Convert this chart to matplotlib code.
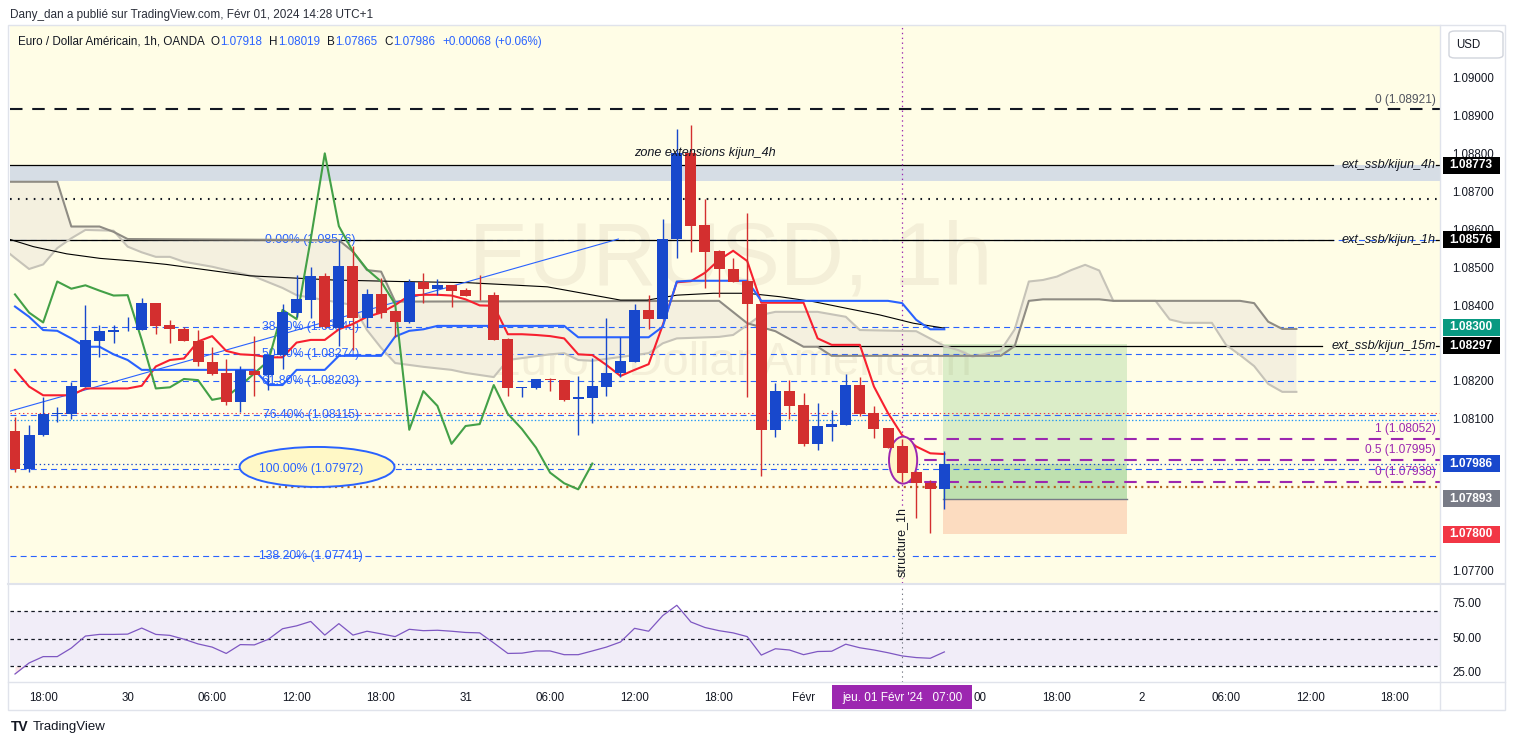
import matplotlib
matplotlib.use("Agg")
import matplotlib.pyplot as plt
from matplotlib.patches import Rectangle, Ellipse, Polygon, FancyBboxPatch
from matplotlib.transforms import blended_transform_factory as blend
import numpy as np

# ---------------- data ----------------
opens = [1.08072, 1.07972, 1.08060, 1.08117, 1.08117, 1.08189, 1.08310, 1.08334, 1.08337, 1.08337,
         1.08409, 1.08351, 1.08341, 1.08310, 1.08253, 1.08224, 1.08149, 1.08229, 1.08220, 1.08271,
         1.08384, 1.08418, 1.08481, 1.08344, 1.08507, 1.08371, 1.08432, 1.08388, 1.08358, 1.08466,
         1.08447, 1.08456, 1.08444, 1.08431, 1.08431, 1.08315, 1.08186, 1.08186, 1.08209, 1.08206,
         1.08155, 1.08160, 1.08189, 1.08224, 1.08255, 1.08391, 1.08367, 1.08577, 1.08804, 1.08615,
         1.08547, 1.08499, 1.08467, 1.08406, 1.08075, 1.08177, 1.08140, 1.08038, 1.08083, 1.08088,
         1.08193, 1.08119, 1.08079, 1.08031, 1.07964, 1.07935, 1.07918]
highs = [1.08110, 1.08088, 1.08162, 1.08136, 1.08202, 1.08404, 1.08351, 1.08351, 1.08372, 1.08422,
         1.08410, 1.08365, 1.08347, 1.08337, 1.08292, 1.08261, 1.08244, 1.08322, 1.08273, 1.08407,
         1.08483, 1.08503, 1.08488, 1.08576, 1.08560, 1.08447, 1.08475, 1.08390, 1.08472, 1.08488,
         1.08472, 1.08458, 1.08450, 1.08483, 1.08438, 1.08316, 1.08189, 1.08209, 1.08211, 1.08207,
         1.08217, 1.08264, 1.08369, 1.08319, 1.08407, 1.08431, 1.08631, 1.08868, 1.08879, 1.08683,
         1.08549, 1.08527, 1.08646, 1.08407, 1.08198, 1.08205, 1.08171, 1.08145, 1.08127, 1.08221,
         1.08213, 1.08139, 1.08080, 1.08052, 1.07966, 1.07943, 1.08019]
lows = [1.07963, 1.07963, 1.08058, 1.08095, 1.08103, 1.08189, 1.08268, 1.08303, 1.08336, 1.08337,
        1.08327, 1.08303, 1.08308, 1.08244, 1.08220, 1.08140, 1.08123, 1.08164, 1.08180, 1.08235,
        1.08373, 1.08371, 1.08343, 1.08297, 1.08286, 1.08345, 1.08371, 1.08319, 1.08357, 1.08410,
        1.08431, 1.08400, 1.08429, 1.08417, 1.08312, 1.08164, 1.08162, 1.08182, 1.08178, 1.08152,
        1.08061, 1.08094, 1.08164, 1.08215, 1.08255, 1.08340, 1.08367, 1.08527, 1.08545, 1.08450,
        1.08424, 1.08466, 1.08161, 1.07952, 1.08057, 1.08103, 1.08033, 1.08022, 1.08046, 1.08087,
        1.08111, 1.08053, 1.08028, 1.07938, 1.07842, 1.07802, 1.07865]
closes = [1.07972, 1.08061, 1.08117, 1.08119, 1.08191, 1.08312, 1.08336, 1.08338, 1.08339, 1.08409,
          1.08350, 1.08340, 1.08308, 1.08253, 1.08223, 1.08149, 1.08232, 1.08220, 1.08271, 1.08385,
          1.08420, 1.08481, 1.08345, 1.08507, 1.08371, 1.08432, 1.08384, 1.08358, 1.08466, 1.08447,
          1.08456, 1.08442, 1.08429, 1.08430, 1.08312, 1.08184, 1.08187, 1.08209, 1.08206, 1.08154,
          1.08161, 1.08191, 1.08224, 1.08257, 1.08391, 1.08367, 1.08577, 1.08804, 1.08612, 1.08545,
          1.08498, 1.08466, 1.08406, 1.08075, 1.08177, 1.08138, 1.08038, 1.08085, 1.08090, 1.08193,
          1.08117, 1.08077, 1.08028, 1.07962, 1.07934, 1.07918, 1.07986]

tenkan = [1.08233, 1.08189, 1.08166, 1.08166, 1.08166, 1.08184, 1.08184, 1.08184, 1.08184, 1.08191,
          1.08242, 1.08259, 1.08263, 1.08308, 1.08322, 1.08283, 1.08274, 1.08272, 1.08266, 1.08266,
          1.08305, 1.08312, 1.08312, 1.08340, 1.08354, 1.08373, 1.08384, 1.08404, 1.08429, 1.08431,
          1.08431, 1.08429, 1.08419, 1.08403, 1.08402, 1.08327, 1.08327, 1.08325, 1.08322, 1.08316,
          1.08274, 1.08272, 1.08246, 1.08217, 1.08233, 1.08248, 1.08351, 1.08464, 1.08467, 1.08489,
          1.08523, 1.08547, 1.08520, 1.08410, 1.08410, 1.08410, 1.08410, 1.08316, 1.08299, 1.08299,
          1.08299, 1.08189, 1.08119, 1.08061, 1.08031, 1.08013, 1.08011]
kijun = ([1.08400, 1.08373, 1.08338, 1.08336, 1.08316, 1.08294, 1.08294, 1.08274, 1.08259, 1.08233]
         + [1.08233] * 8 + [1.08193, 1.08193] + [1.08233] * 3 + [1.08270] * 4
         + [1.08321, 1.08336, 1.08340] + [1.08349] * 10 + [1.08319] * 6
         + [1.08347, 1.08466] + [1.08468] * 5 + [1.08415] * 10
         + [1.08409, 1.08365, 1.08340, 1.08340])
rsi = [24.3, 32.3, 36.9, 36.9, 43.1, 51.8, 53.0, 53.0, 53.2, 57.6,
       53.0, 52.3, 49.5, 46.1, 43.8, 39.2, 45.6, 45.4, 49.5, 57.1,
       59.2, 62.4, 52.5, 60.8, 52.5, 55.3, 53.4, 51.4, 56.7, 55.7,
       56.0, 55.3, 54.4, 54.1, 46.8, 39.2, 39.4, 41.0, 41.0, 38.3,
       38.3, 41.0, 43.8, 47.5, 57.4, 55.3, 66.6, 74.1, 62.0, 58.0,
       55.7, 54.1, 51.4, 38.0, 42.6, 41.7, 38.3, 40.6, 40.8, 45.9,
       43.3, 41.7, 39.7, 37.4, 36.2, 35.7, 40.3]
chikou_shift = 25

span_a_x = [-1, 0, 1, 2, 3, 4, 5, 7, 8, 9, 10, 11, 12, 14, 17, 19, 20, 22, 24, 25, 26, 27, 29, 31, 32,
            34, 35, 38, 39, 40, 41, 45, 46, 47, 50, 51, 52, 53, 54, 57, 59, 60, 64, 66, 67, 68, 70, 71,
            72, 73, 74, 75, 76, 77, 78, 81, 82, 83, 85, 86, 87, 88, 89, 90, 91]
span_a_y = [1.08558, 1.08528, 1.08499, 1.08511, 1.08554, 1.08580, 1.08602, 1.08600, 1.08558, 1.08543,
            1.08531, 1.08531, 1.08518, 1.08505, 1.08479, 1.08449, 1.08430, 1.08417, 1.08404, 1.08338,
            1.08291, 1.08251, 1.08241, 1.08233, 1.08225, 1.08214, 1.08259, 1.08274, 1.08277, 1.08259,
            1.08257, 1.08277, 1.08303, 1.08316, 1.08320, 1.08325, 1.08351, 1.08378, 1.08386, 1.08386,
            1.08373, 1.08338, 1.08335, 1.08296, 1.08285, 1.08268, 1.08284, 1.08340, 1.08466, 1.08470,
            1.08479, 1.08496, 1.08510, 1.08495, 1.08415, 1.08415, 1.08366, 1.08357, 1.08357, 1.08299,
            1.08272, 1.08243, 1.08196, 1.08175, 1.08175]
span_b_x = [-1, 3, 4, 6, 7, 8, 23, 24, 25, 26, 27, 50, 52, 54, 56, 57, 58, 70, 71, 72, 73, 77, 78, 87,
            88, 89, 90, 91]
span_b_y = [1.08729, 1.08729, 1.08611, 1.08611, 1.08597, 1.08578, 1.08575, 1.08545, 1.08496, 1.08492,
            1.08413, 1.08415, 1.08356, 1.08335, 1.08294, 1.08294, 1.08270, 1.08270, 1.08296, 1.08415,
            1.08419, 1.08419, 1.08415, 1.08415, 1.08409, 1.08360, 1.08341, 1.08341]

sma_x = [-0.36, 1.3, 3.67, 6.04, 8.4, 10.77, 13.14, 16.69, 22.6, 27.3, 32.1, 37.8, 43.0, 44.9, 47.0,
         49.6, 52.0, 54.3, 56.7, 59.1, 61.4, 63.8, 66.0]
sma_y = [1.08577, 1.08558, 1.08539, 1.08527, 1.08520, 1.08511, 1.08499, 1.08481, 1.08470, 1.08466,
         1.08463, 1.08452, 1.08417, 1.08417, 1.08430, 1.08435, 1.08435, 1.08426, 1.08413, 1.08395,
         1.08378, 1.08356, 1.08343]
trend_x = [-0.36, 42.85]
trend_y = [1.08124, 1.08578]

fib_levels = [1.08576, 1.08345, 1.08274, 1.08203, 1.08115, 1.07972, 1.07741]
fib_labels = ["0.00% (1.08576)", "38.20% (1.08345)", "50.00% (1.08274)", "61.80% (1.08203)",
              "76.40% (1.08115)", "100.00% (1.07972)", "138.20% (1.07741)"]
struct_levels = [1.08052, 1.07995, 1.07938]
struct_labels = ["1 (1.08052)", "0.5 (1.07995)", "0 (1.07938)"]
struct_bar = 63
ext_levels = [1.08773, 1.08576, 1.08297]
ext_labels = ["ext_ssb/kijun_4h", "ext_ssb/kijun_1h", "ext_ssb/kijun_15m"]
ext_starts = [-0.36, -0.36, 57]
ext_gap_from = [93.6, 93.6, 92.8]
zone_lo, zone_hi = 1.08731, 1.08773
top_level, top_label = 1.08921, "0 (1.08921)"
black_dotted = 1.08684
red_dotted = 1.08119
lightblue_dotted = 1.08101
last_price = 1.07986
orange_dotted = 1.07925
entry, take_profit, stop_loss = 1.07893, 1.08300, 1.07800
pos_start, pos_end = 65.9, 79.0

price_ticks = [1.077, 1.081, 1.082, 1.084, 1.085, 1.086, 1.087, 1.088, 1.089, 1.090]
tag_texts = ["1.08773", "1.08576", "1.08300", "1.08297", "1.07986", "1.07893", "1.07800"]
tag_pos = [1.08773, 1.08576, 1.08346, 1.08297, 1.07986, 1.07893, 1.07800]
tag_colors = ["#000000", "#000000", "#089981", "#000000", "#1848cc", "#787b86", "#f23645"]
time_ticks = [2, 8, 14, 20, 26, 32, 38, 44, 50, 56, 74, 80, 86, 92, 98]
time_labels = ["18:00", "30", "06:00", "12:00", "18:00", "31", "06:00", "12:00", "18:00", "Févr",
               "18:00", "2", "06:00", "12:00", "18:00"]
partial_tick, partial_label = 68.05, "00"
rsi_ticks = [75, 50, 25]
rsi_labels = ["75.00", "50.00", "25.00"]
cross_bar = 63
cross_label = "jeu. 01 Févr '24   07:00"

# ---------------- style ----------------
plt.rcParams['font.family'] = ['Liberation Sans', 'DejaVu Sans']
plt.rcParams['lines.scale_dashes'] = False
BG = '#fffde6'
DARK = '#131722'
RED = '#d32f2f'
BLUE = '#1848cc'
FS = 8.3

W, H = 1515, 746
fig = plt.figure(figsize=(W / 100, H / 100), dpi=100)
fig.patch.set_facecolor('white')


def fx(px):
    return px / W


def fy(py):
    return 1 - py / H


YMIN, YMAX = 1.076710, 1.091424
XMIN, XMAX = -0.355, 101.2
PPX = (YMAX - YMIN) / 558.0

ax = fig.add_axes([fx(10), fy(583), 1430 / W, 558 / H])
ax.set_xlim(XMIN, XMAX)
ax.set_ylim(YMIN, YMAX)
ax.set_facecolor(BG)
ax.set_xticks([]); ax.set_yticks([])
for s in ax.spines.values():
    s.set_visible(False)

n = len(closes)
bars = np.arange(n)

# watermark
ax.text(50.8, 1.08519, "EURUSD, 1h", fontsize=64, color='#f4efd8', ha='center', va='center', zorder=0.5)
ax.text(50.8, 1.08250, "Euro / Dollar Américain", fontsize=34, color='#f4efd8', ha='center', va='center', zorder=0.5)

# zone
ax.axhspan(zone_lo, zone_hi, color='#d6dde5', zorder=1, lw=0)
ax.text(49.0, 1.08805, "zone extensions kijun_4h", fontsize=9.1, style='italic', color=DARK,
        ha='center', va='center', zorder=6)

# cloud
poly = list(zip(span_a_x, span_a_y)) + list(zip(span_b_x, span_b_y))[::-1]
ax.add_patch(Polygon(poly, closed=True, fc='#f4f0df', ec='none', zorder=1.2))
ax.plot(span_a_x, span_a_y, color='#c6c3b8', lw=1.5, zorder=3)
ax.plot(span_b_x, span_b_y, color='#8f8c84', lw=1.5, zorder=3)

# horizontal levels
ax.axhline(top_level, color=DARK, lw=1.5, ls=(0, (9, 7)), zorder=2)
ax.text(100.9, top_level + 9 * PPX, top_label, fontsize=FS + 0.3, color='#50535e', ha='right', va='center', zorder=6)
ax.axhline(black_dotted, color=DARK, lw=1.5, ls=(0, (1.2, 4.5)), zorder=2)
ax.axhline(red_dotted, color='#f23645', lw=0.8, ls=(0, (1, 2)), zorder=2)
ax.axhline(lightblue_dotted, color='#2196f3', lw=0.9, ls=(0, (1, 1.5)), zorder=2)
ax.axhline(last_price, color=BLUE, lw=0.9, ls=(0, (1, 2)), zorder=2)
ax.axhline(orange_dotted, color='#b5651d', lw=1.6, ls=(0, (1.5, 3)), zorder=2)

for lv in fib_levels:
    ax.axhline(lv, color='#2962ff', lw=0.8, ls=(0, (4.3, 3)), zorder=2)

for lv, lab, st, g in zip(ext_levels, ext_labels, ext_starts, ext_gap_from):
    ax.plot([st, g], [lv, lv], color='black', lw=0.9, zorder=2.2)
    ax.plot([100.95, XMAX], [lv, lv], color='black', lw=0.9, zorder=2.2)
    ax.text(100.9, lv, lab, fontsize=9.1, style='italic', color=DARK, ha='right', va='center', zorder=6)

# position (long)
ax.add_patch(Rectangle((pos_start, entry), pos_end - pos_start, take_profit - entry,
                       fc='#4caf50', alpha=0.2, ec='none', zorder=1.5))
ax.add_patch(Rectangle((pos_start, entry), pos_end - pos_start, last_price - entry,
                       fc='#4caf50', alpha=0.2, ec='none', zorder=1.5))
ax.add_patch(Rectangle((pos_start, stop_loss), pos_end - pos_start, entry - stop_loss,
                       fc='#f7a07a', alpha=0.35, ec='none', zorder=1.5))
ax.plot([pos_start, pos_end], [entry, entry], color='#787b86', lw=1, zorder=2)

# structure fib
for lv, lab in zip(struct_levels, struct_labels):
    ax.plot([struct_bar, XMAX], [lv, lv], color='#9c27b0', lw=1.5, ls=(0, (9, 7)), zorder=2.3)
    ax.text(100.9, lv + 10 * PPX, lab, fontsize=FS + 0.3, color='#9c27b0', ha='right', va='center', zorder=6)

# blue ellipse around the 100% label
ax.add_patch(Ellipse((21.45, 1.07977), 11.0, 40 * PPX, fc='#fff8c6', ec='#2962ff', lw=1.4, zorder=2.4))
for lv, lab in zip(fib_levels, fib_labels):
    ax.text(21.0, lv, lab, fontsize=FS + 0.5, color='#2962ff', ha='center', va='center', zorder=2.5)

# sma & trend line
ax.plot(sma_x, sma_y, color='black', lw=0.8, zorder=3)
ax.plot(trend_x, trend_y, color='#2962ff', lw=0.8, zorder=3)

# crosshair / vertical line
ax.axvline(cross_bar, color='#9c27b0', lw=0.9, ls=(0, (1, 2.5)), zorder=2.6)
ax.text(cross_bar, 1.07779, "structure_1h", rotation=90, fontsize=FS + 0.7, color=DARK, ha='center',
        va='center', zorder=6, bbox=dict(fc=BG, ec='none', pad=1.0))

# ichimoku lines
ax.plot(bars, tenkan, color='#f7202f', lw=1.5, zorder=4)
ax.plot(bars, kijun, color='#2962ff', lw=1.5, zorder=4)
ax.plot(bars[:n - chikou_shift], closes[chikou_shift:], color='#43a047', lw=1.5, zorder=4)

# purple ellipse
ax.add_patch(Ellipse((63.07, 1.07995), 2.0, 47 * PPX, fc='#fff6c9', ec='#9c27b0', lw=1.4, zorder=4.5))

# candles
for i in range(n):
    o, h, l, c = opens[i], highs[i], lows[i], closes[i]
    col = BLUE if c >= o else RED
    ax.vlines(i, l, h, color=col, lw=1, zorder=5)
    ax.bar(i, max(abs(c - o), 1.6e-5), bottom=min(o, c), width=0.78, color=col, zorder=5.1, lw=0)

# ---------------- price scale ----------------
axp = fig.add_axes([fx(1440), fy(583), 75 / W, 558 / H])
axp.set_xlim(0, 75); axp.set_ylim(YMIN, YMAX); axp.axis('off')
for t in price_ticks:
    axp.text(33, t, f"{t:.5f}", fontsize=FS, color=DARK, ha='center', va='center')
for txt, p, col in zip(tag_texts, tag_pos, tag_colors):
    axp.add_patch(Rectangle((2.5, p - 8.5 * PPX), 57, 17 * PPX, fc=col, ec='none', zorder=5))
    axp.text(31, p, txt, fontsize=FS + 0.3, color='white', weight='bold', ha='center', va='center', zorder=6)

# ---------------- RSI ----------------
axr = fig.add_axes([fx(10), fy(682), 1430 / W, 97 / H])
axr.set_xlim(XMIN, XMAX); axr.set_ylim(18.5, 88.8)
axr.set_facecolor('white')
axr.set_xticks([]); axr.set_yticks([])
for s in axr.spines.values():
    s.set_visible(False)
axr.axhspan(30, 70, color='#7e57c2', alpha=0.1, lw=0)
for lv in (70, 50, 30):
    axr.axhline(lv, color=DARK, lw=0.9, ls=(0, (2.5, 2.5)))
rsi_arr = np.array(rsi)
axr.fill_between(bars, rsi_arr, 30, where=rsi_arr < 30, interpolate=True, color='#f23645', alpha=0.12, lw=0)
axr.plot(bars, rsi, color='#7e57c2', lw=0.9)
axr.axvline(cross_bar, color='#787b86', lw=0.8, ls=(0, (1, 2.5)))

axrp = fig.add_axes([fx(1440), fy(682), 75 / W, 97 / H])
axrp.set_xlim(0, 75); axrp.set_ylim(18.5, 88.8); axrp.axis('off')
for t, lab in zip(rsi_ticks, rsi_labels):
    axrp.text(27, t, lab, fontsize=FS, color=DARK, ha='center', va='center')

# time axis
tt = blend(axr.transData, axr.transAxes)
for b, lab in zip(time_ticks, time_labels):
    axr.text(b, -0.165, lab, transform=tt, fontsize=FS, color=DARK, ha='center', va='center', clip_on=False)
axr.text(partial_tick, -0.165, partial_label, transform=tt, fontsize=FS, color=DARK, ha='left',
         va='center', clip_on=False)
axr.add_patch(Rectangle((cross_bar - 4.97, -0.278), 9.94, 0.247, transform=tt, fc='#9c27b0',
                        ec='none', clip_on=False, zorder=5))
axr.text(cross_bar, -0.165, cross_label, transform=tt, fontsize=FS + 0.2, color='white', ha='center',
         va='center', clip_on=False, zorder=6)

# ---------------- frame, separators, header ----------------
fig.patches.append(Rectangle((fx(8), fy(710)), 1497 / W, 685 / H, transform=fig.transFigure,
                             fill=False, ec='#e0e3eb', lw=1))
fig.lines.append(plt.Line2D([fx(8), fx(1505)], [fy(584), fy(584)], transform=fig.transFigure,
                            color='#e0e3eb', lw=1.5))
fig.lines.append(plt.Line2D([fx(8), fx(1505)], [fy(682), fy(682)], transform=fig.transFigure,
                            color='#e0e3eb', lw=1))
fig.lines.append(plt.Line2D([fx(1440), fx(1440)], [fy(25), fy(710)], transform=fig.transFigure,
                            color='#e0e3eb', lw=1))

fig.text(fx(10), fy(15), "Dany_dan a publié sur TradingView.com, Févr 01, 2024 14:28 UTC+1",
         fontsize=FS + 0.2, color='#2a2e39', ha='left', va='center')

# legend line, chained using measured text widths
renderer = fig.canvas.get_renderer()
legend = [("Euro / Dollar Américain, 1h, OANDA", DARK, 6), ("O", DARK, 0.5), ("1.07918", '#2962ff', 7),
          ("H", DARK, 0.5), ("1.08019", '#2962ff', 7), ("B", DARK, 0.5), ("1.07865", '#2962ff', 7),
          ("C", DARK, 0.5), ("1.07986", '#2962ff', 7), ("+0.00068", '#2962ff', 3),
          ("(+0.06%)", '#2962ff', 0)]
xpos = 18.0
for t, c, gap in legend:
    txt = fig.text(fx(xpos), fy(42), t, fontsize=FS + 0.1, color=c, ha='left', va='center')
    bb = txt.get_window_extent(renderer)
    xpos = bb.x1 + gap

fig.patches.append(FancyBboxPatch((fx(1449), fy(58)), 54 / W, 27 / H, boxstyle='round,pad=0,rounding_size=0.004',
                                  transform=fig.transFigure, fc='white', ec='#d1d4dc', lw=1))
fig.text(fx(1456), fy(44.5), "USD", fontsize=FS, color=DARK, ha='left', va='center')

fig.text(fx(11), fy(727), "TV", fontsize=10, weight='bold', color=DARK, ha='left', va='center')
fig.text(fx(33), fy(727), "TradingView", fontsize=9.5, color=DARK, ha='left', va='center')

fig.savefig("out.png", dpi=100, facecolor='white')
